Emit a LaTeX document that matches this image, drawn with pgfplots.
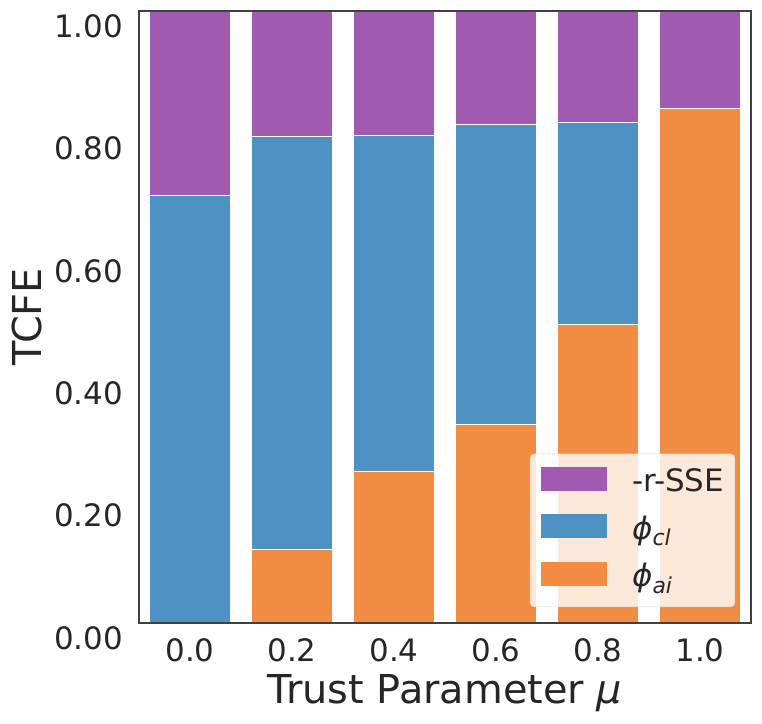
\documentclass[border=0pt]{standalone}
\usepackage{pgfplots}
\pgfplotsset{compat=1.18}
\usepackage{fontspec}
\setmainfont{DejaVu Sans}
\definecolor{cpurple}{RGB}{160,91,176}
\definecolor{cblue}{RGB}{78,146,196}
\definecolor{corange}{RGB}{241,140,66}
\definecolor{ctext}{RGB}{38,38,38}
\newcommand\legpatch[1]{\fill[#1, fill opacity=1, sharp corners] (0bp,-7.5bp) rectangle (65bp,15.5bp);}
\begin{document}
\begin{tikzpicture}
\begin{axis}[
  name=ax,
  axis on top,
  scale only axis, width=612bp, height=612bp,
  xmin=-0.5, xmax=5.5, ymin=0, ymax=1,
  ybar stacked, bar width=0.8,
  xtick={0,1,2,3,4,5}, xticklabels={0.0,0.2,0.4,0.6,0.8,1.0},
  ytick={0,0.2,0.4,0.6,0.8,1.0},
  major tick length=0pt,
  /pgf/number format/assume math mode=true,
  y tick label style={/pgf/number format/fixed, /pgf/number format/fixed zerofill, /pgf/number format/precision=2},
  tick label style={font=\fontsize{31}{37}\selectfont, text=ctext},
  xticklabel style={inner sep=0pt, yshift=-15bp},
  yticklabel style={inner sep=0pt, anchor=east, xshift=-16bp, yshift=-15bp},
  axis line style={draw=black!75, line width=1.25bp},
  xlabel={Trust Parameter {\itshape μ}},
  xlabel style={at={(axis description cs:0.5,-0.131)}, anchor=base, inner sep=0pt, font=\fontsize{40}{48}\selectfont, text=ctext},
  ylabel={TCFE},
  ylabel style={at={(axis description cs:-0.1585,0.5)}, anchor=south, inner sep=0pt, font=\fontsize{40}{48}\selectfont, text=ctext},
  reverse legend,
  legend style={at={(axis description cs:0.974,0.026)}, anchor=south east,
    draw=black!20, fill=white, fill opacity=0.8, text opacity=1, rounded corners=4bp,
    font=\fontsize{31}{37}\selectfont, text=ctext, inner xsep=11bp, inner ysep=12bp,
    row sep=13.5bp, column sep=25bp,
    nodes={inner sep=0pt, text height=26bp, text depth=8bp}},
  legend cell align=left,
]
\addplot[fill=corange, draw=white, line width=1bp, legend image code/.code={\legpatch{corange}}]
  coordinates {(0,0) (1,0.120) (2,0.248) (3,0.325) (4,0.487) (5,0.841)};
\addlegendentry{{\itshape ϕ\raisebox{-0.2em}{\fontsize{22}{22}\selectfont ai}}}
\addplot[fill=cblue, draw=white, line width=1bp, legend image code/.code={\legpatch{cblue}}]
  coordinates {(0,0.699) (1,0.675) (2,0.549) (3,0.489) (4,0.331) (5,0)};
\addlegendentry{{\itshape ϕ\raisebox{-0.2em}{\fontsize{22}{22}\selectfont cl}}}
\addplot[fill=cpurple, draw=white, line width=1bp, legend image code/.code={\legpatch{cpurple}}]
  coordinates {(0,0.301) (1,0.205) (2,0.203) (3,0.186) (4,0.182) (5,0.159)};
\addlegendentry{-r-SSE}
\end{axis}
\path ([shift={(-139bp,-101bp)}]ax.south west) rectangle ([shift={(11bp,11bp)}]ax.north east);
\end{tikzpicture}
\end{document}
